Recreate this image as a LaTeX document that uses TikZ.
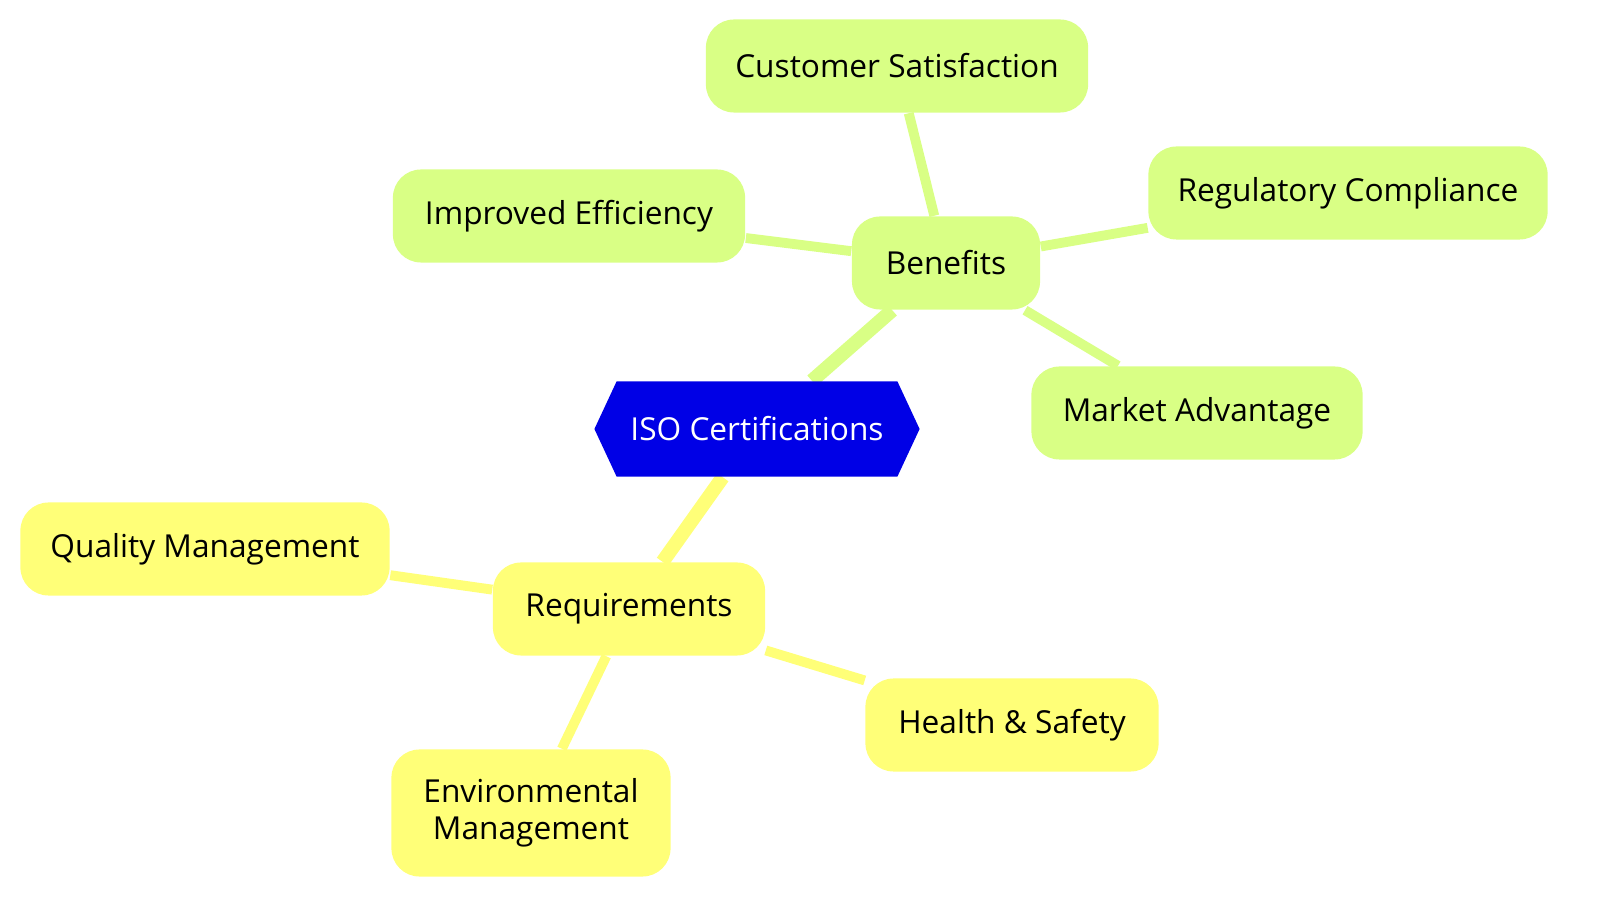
\documentclass[tikz,border=0pt]{standalone}
\usepackage{fontspec}
\setmainfont{Open Sans}
\usetikzlibrary{shapes.symbols,backgrounds}
\definecolor{bengreen}{HTML}{D9FF85}
\definecolor{reqyellow}{HTML}{FFFF78}
\definecolor{rootblue}{HTML}{0000E6}
\tikzset{
  leaf/.style={rounded corners=8pt, inner sep=0pt, align=center, font=\fontsize{9}{10.5}\selectfont},
  ben/.style={leaf, fill=bengreen},
  req/.style={leaf, fill=reqyellow},
  benline/.style={draw=bengreen, line width=2.8pt},
  reqline/.style={draw=reqyellow, line width=2.8pt}
}
\begin{document}
\begin{tikzpicture}[x=0.01cm, y=-0.01cm]
  \useasboundingbox (0,0) rectangle (1600,916);

  % Root
  \node[signal, signal to=east and west, signal pointer angle=130, fill=rootblue, text=white,
        minimum width=3.25cm, minimum height=0.95cm, inner sep=2pt,
        font=\fontsize{9}{10.5}\selectfont] (root) at (757,429) {ISO Certifications};

  % Benefits
  \node[ben, minimum width=1.88cm, minimum height=0.93cm] (benefits) at (946,263) {Benefits};
  \node[ben, minimum width=3.82cm, minimum height=0.93cm] (satisfaction) at (897,66) {Customer Satisfaction};
  \node[ben, minimum width=3.52cm, minimum height=0.93cm] (efficiency) at (569,216) {Improved Efficiency};
  \node[ben, minimum width=3.99cm, minimum height=0.93cm] (compliance) at (1348,193) {Regulatory Compliance};
  \node[ben, minimum width=3.31cm, minimum height=0.93cm] (advantage) at (1197,413) {Market Advantage};

  % Requirements
  \node[req, minimum width=2.72cm, minimum height=0.93cm] (requirements) at (629,609) {Requirements};
  \node[req, minimum width=3.69cm, minimum height=0.93cm] (quality) at (205,549) {Quality Management};
  \node[req, minimum width=2.93cm, minimum height=0.93cm] (safety) at (1012,725) {Health \& Safety};
  \node[req, minimum width=2.79cm, minimum height=1.27cm] (environment) at (531,813) {Environmental\\Management};

  % Links
  \begin{scope}[on background layer]
    \draw[benline, line width=4pt] (root) -- (benefits);
    \draw[reqline, line width=4pt] (root) -- (requirements);
    \foreach \n in {satisfaction, efficiency, compliance, advantage}
      \draw[benline] (benefits) -- (\n);
    \foreach \n in {quality, safety, environment}
      \draw[reqline] (requirements) -- (\n);
  \end{scope}
\end{tikzpicture}
\end{document}
